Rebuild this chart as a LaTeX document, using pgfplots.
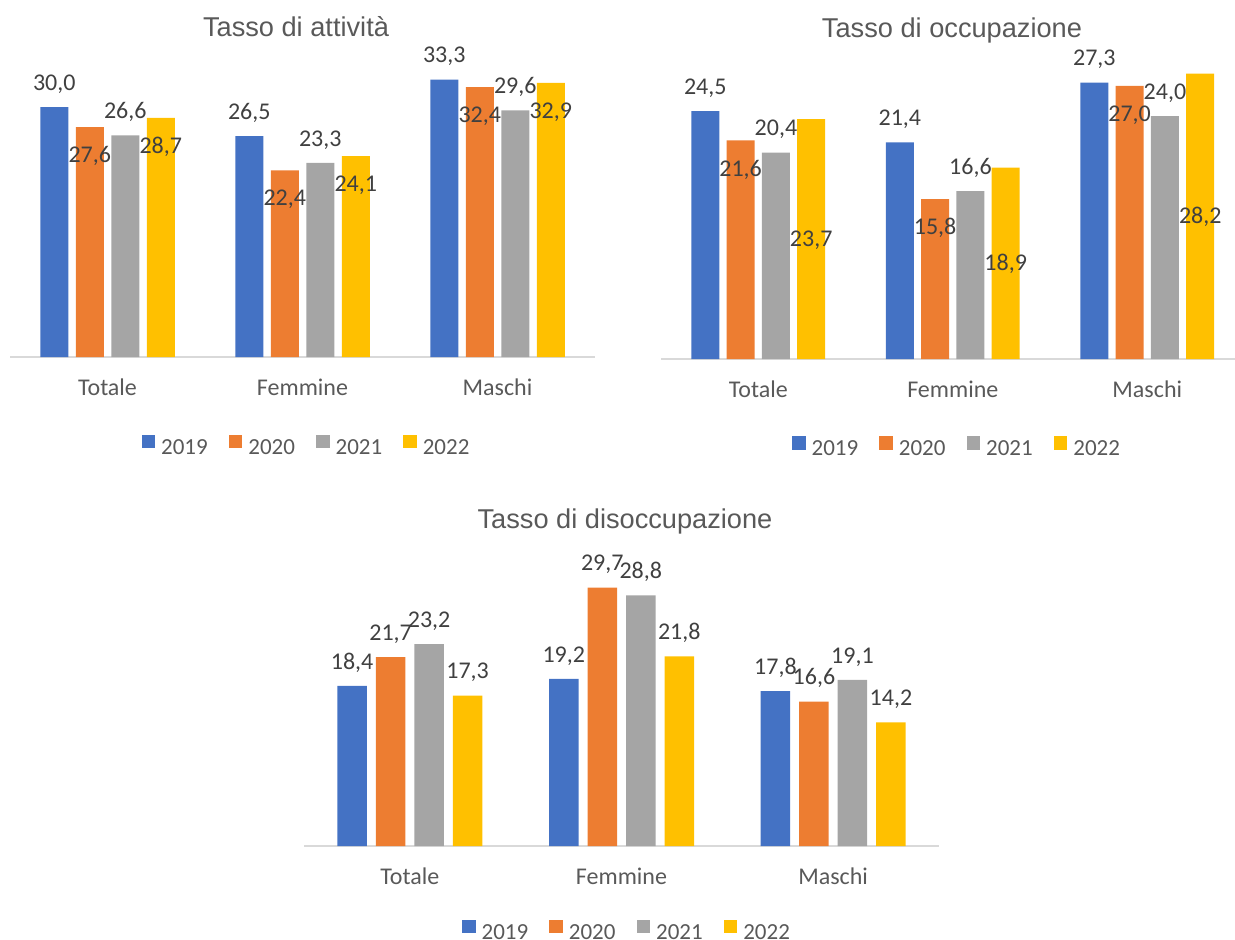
\documentclass[border=0pt]{standalone}
\usepackage{pgfplots}
\pgfplotsset{compat=1.18}
\usepackage{fontspec}
\setmainfont{Carlito}
\newfontfamily\titlefont{Liberation Sans}
\definecolor{c19}{HTML}{4472C4}
\definecolor{c20}{HTML}{ED7D31}
\definecolor{c21}{HTML}{A5A5A5}
\definecolor{c22}{HTML}{FFC000}
\definecolor{labtext}{HTML}{404040}
\definecolor{axtext}{HTML}{595959}
\definecolor{axline}{HTML}{D9D9D9}
\pgfplotsset{
  mychart/.style={
    scale only axis, clip=false,
    ybar,
    ymin=0, xmin=-0.5,
    axis x line=bottom, axis y line=none,
    axis line style={-, draw=axline, line width=0.75pt},
    xtick={0,1,2}, xticklabels={Totale,Femmine,Maschi},
    major tick length=0pt,
    xticklabel style={anchor=base, yshift=-19pt, font=\fontsize{12}{14}\selectfont, text=axtext},
    title style={font=\titlefont\fontsize{13.6}{16}\selectfont, text=axtext, anchor=base, at={(0.5,1)}},
    legend columns=4,
    legend style={draw=none, fill=none, inner sep=0pt, column sep=0pt,
      font=\fontsize{11.5}{13}\selectfont, text=axtext, nodes={inner sep=0pt},
      /tikz/every even column/.append style={column sep=10.5pt}},
    point meta=y,
    nodes near coords={\pgfmathprintnumber{\pgfplotspointmeta}},
    /pgf/number format/fixed, /pgf/number format/fixed zerofill,
    /pgf/number format/precision=1, /pgf/number format/use comma,
    /pgf/number format/assume math mode=true,
    every node near coord/.append style={font=\fontsize{12}{14}\selectfont, text=labtext, inner sep=0pt},
  },
  lblout/.style={nodes near coords align={anchor=base}, every node near coord/.append style={yshift=8.4pt}},
  lblin/.style={nodes near coords align={anchor=base}, every node near coord/.append style={yshift=-17.8pt}},
}
\begin{document}
\begin{tikzpicture}
\path[use as bounding box] (0pt,0pt) rectangle (617.5pt,-469.5pt);
% ---------- Tasso di attivita
\begin{axis}[mychart,
  at={(5pt,-178.5pt)}, anchor=south west,
  width=292.5pt, height=145.83pt, xmax=2.5, ymax=35,
  bar width=14pt, ybar=3.75pt,
  title={Tasso di attività}, title style={yshift=8.4pt, xshift=-3.25pt},
  legend style={at={(0.5,0)}, anchor=center, xshift=1.5pt, yshift=-44.5pt},
  every axis plot post/.append style={legend image code/.code={\path[##1] (0pt,0pt) rectangle (6.8pt,6.8pt); \path (9.8pt,0pt);}}]
\addplot[fill=c19, draw=none, lblout] coordinates {(0,30.0) (1,26.5) (2,33.3)};
\addplot[fill=c20, draw=none, lblin] coordinates {(0,27.6) (1,22.4) (2,32.4)};
\addplot[fill=c21, draw=none, lblout] coordinates {(0,26.6) (1,23.3) (2,29.6)};
\addplot[fill=c22, draw=none, lblin] coordinates {(0,28.7) (1,24.1) (2,32.9)};
\legend{2019,2020,2021,2022}
\end{axis}
% ---------- Tasso di occupazione
\begin{axis}[mychart,
  at={(330.5pt,-179.5pt)}, anchor=south west,
  width=287pt, height=151.8pt, xmax=2.451, ymax=30,
  bar width=14pt, ybar=3.65pt,
  title={Tasso di occupazione}, title style={yshift=3.1pt, xshift=2pt},
  legend style={at={(0.5,0)}, anchor=center, xshift=4pt, yshift=-44.2pt},
  every axis plot post/.append style={legend image code/.code={\path[##1] (0pt,0pt) rectangle (6.8pt,6.8pt); \path (9.8pt,0pt);}}]
\addplot[fill=c19, draw=none, lblout] coordinates {(0,24.5) (1,21.4) (2,27.3)};
\addplot[fill=c20, draw=none, lblin] coordinates {(0,21.6) (1,15.8) (2,27.0)};
\addplot[fill=c21, draw=none, lblout] coordinates {(0,20.4) (1,16.6) (2,24.0)};
\addplot[fill=c22, draw=none, nodes near coords align={anchor=base},
  visualization depends on={\thisrow{y} \as \rawy},
  every node near coord/.append style={yshift={-(2.53*\rawy+3.75)*1pt}}] table {
x y
0 23.7
1 18.9
2 28.2
};
\legend{2019,2020,2021,2022}
\end{axis}
% ---------- Tasso di disoccupazione
\begin{axis}[mychart,
  at={(152pt,-423pt)}, anchor=south west,
  width=317.5pt, height=152.25pt, xmax=2.5, ymax=35,
  bar width=14.75pt, ybar=4.5pt,
  title={Tasso di disoccupazione}, title style={yshift=0.7pt, xshift=1.75pt},
  legend style={at={(0.5,0)}, anchor=center, xshift=2.25pt, yshift=-42.5pt},
  every axis plot post/.append style={legend image code/.code={\path[##1] (0pt,0pt) rectangle (6.8pt,6.8pt); \path (9.8pt,0pt);}}]
\addplot[fill=c19, draw=none, lblout] coordinates {(0,18.4) (1,19.2) (2,17.8)};
\addplot[fill=c20, draw=none, lblout] coordinates {(0,21.7) (1,29.7) (2,16.6)};
\addplot[fill=c21, draw=none, lblout] coordinates {(0,23.2) (1,28.8) (2,19.1)};
\addplot[fill=c22, draw=none, lblout] coordinates {(0,17.3) (1,21.8) (2,14.2)};
\legend{2019,2020,2021,2022}
\end{axis}
\end{tikzpicture}
\end{document}
